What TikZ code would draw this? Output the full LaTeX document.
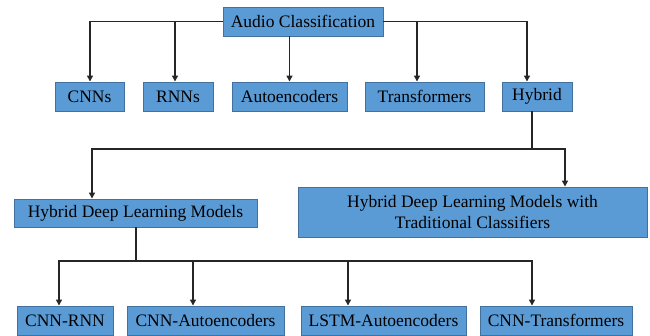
\documentclass[tikz,border=0pt]{standalone}
\usepackage{fontspec}
\setmainfont{Liberation Serif}
\usetikzlibrary{arrows.meta}
\definecolor{boxfill}{HTML}{5B9BD5}
\definecolor{boxline}{HTML}{41719C}
\definecolor{linec}{HTML}{262626}
\begin{document}
\begin{tikzpicture}[x=1pt,y=-1pt,
  box/.style={draw=boxline, fill=boxfill, line width=0.9pt, inner sep=0pt,
    font=\fontsize{17.5}{21}\selectfont, text=black, align=center},
  conn/.style={draw=linec, line width=1.4pt},
  arr/.style={conn, -{Triangle[length=6pt,width=6pt]}}]
\useasboundingbox (0,0) rectangle (650,336);
% top
\node[box, minimum width=160pt, minimum height=29pt] (ac) at (303,21.5) {Audio Classification};
% row 2
\node[box, minimum width=69pt, minimum height=29pt] (cnns) at (89.5,96.5) {CNNs};
\node[box, minimum width=70pt, minimum height=29pt] (rnns) at (178,96.5) {RNNs};
\node[box, minimum width=115pt, minimum height=29pt] (auto) at (289.5,96.5) {Autoencoders};
\node[box, minimum width=119pt, minimum height=29pt] (trans) at (424.5,96.5) {Transformers};
\node[box, minimum width=70pt, minimum height=29pt] (hyb) at (537,96.5) {Hybrid};
% row 3
\node[box, minimum width=243pt, minimum height=28pt] (hdl) at (135.5,213) {Hybrid Deep Learning Models};
\node[box, minimum width=349pt, minimum height=50pt] (hdlt) at (472.5,212) {Hybrid Deep Learning Models with\\Traditional Classifiers};
% row 4
\node[box, minimum width=96pt, minimum height=29pt] (cnnrnn) at (65,320.5) {CNN-RNN};
\node[box, minimum width=157pt, minimum height=29pt] (cnnauto) at (205.5,320.5) {CNN-Autoencoders};
\node[box, minimum width=165pt, minimum height=29pt] (lstm) at (383.5,320.5) {LSTM-Autoencoders};
\node[box, minimum width=152pt, minimum height=29pt] (cnntr) at (556,320.5) {CNN-Transformers};
% connectors top
\draw[arr] (ac.west) -| ([xshift=0.5pt]cnns.north);
\draw[arr] (ac.west) -| ([xshift=-3pt]rnns.north);
\draw[arr] (auto.north |- ac.south) -- (auto.north);
\draw[arr] (ac.east) -| ([xshift=-7.5pt]trans.north);
\draw[arr] (ac.east) -| ([xshift=-10pt]hyb.north);
% hybrid split
\coordinate (hj) at (532,149);
\draw[conn] (hyb.south -| hj) -- (hj);
\draw[arr] (hj) -| ([xshift=-43.5pt]hdl.north);
\draw[arr] (hj) -| ([xshift=92.5pt]hdlt.north);
% hdl split
\coordinate (mj) at (136,261);
\draw[conn] (hdl.south -| mj) -- (mj);
\draw[arr] (mj) -| ([xshift=-6pt]cnnrnn.north);
\draw[arr] (mj) -| ([xshift=-12.5pt]cnnauto.north);
\draw[arr] (mj) -| ([xshift=-35.5pt]lstm.north);
\draw[arr] (mj) -| ([xshift=-24pt]cnntr.north);
\end{tikzpicture}
\end{document}
